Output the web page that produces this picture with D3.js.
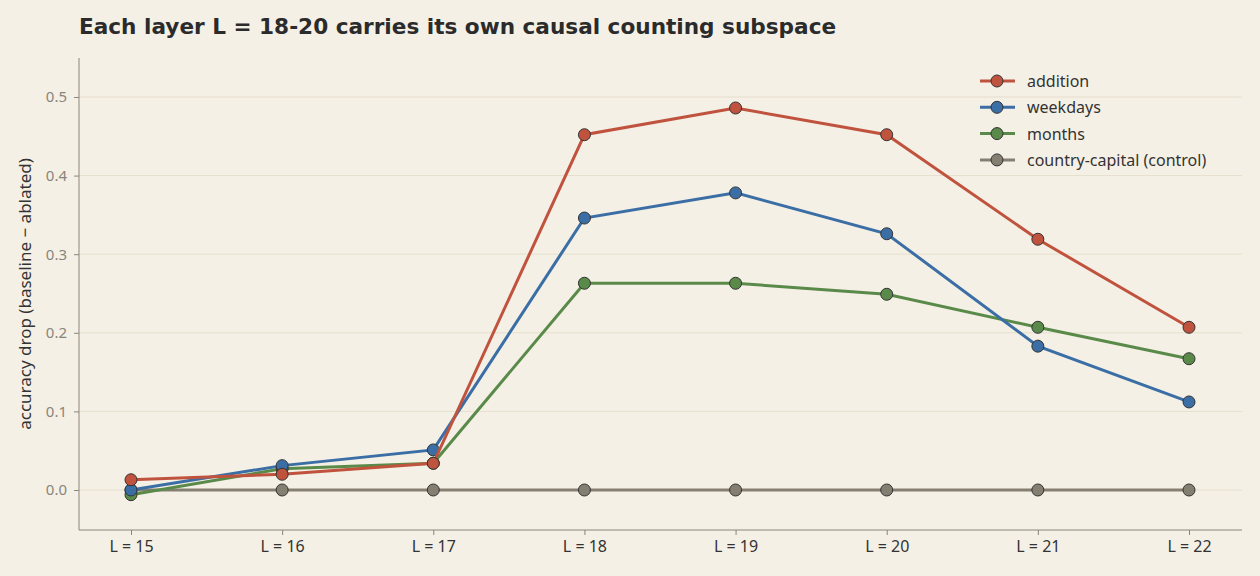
<!DOCTYPE html>
<html><head><meta charset="utf-8">
<script src="https://cdn.jsdelivr.net/npm/d3@7"></script>
<style>body{margin:0;background:#f5f0e6;font-family:"Noto Sans",sans-serif}</style>
</head><body><svg id="c" width="1260" height="576"></svg>
<script>
const categories=["L = 15","L = 16","L = 17","L = 18","L = 19","L = 20","L = 21","L = 22"];
const addition=[0.013,0.020,0.034,0.452,0.486,0.452,0.319,0.207];
const weekdays=[0.000,0.031,0.051,0.346,0.378,0.326,0.183,0.112];
const months=[-0.006,0.027,0.034,0.263,0.263,0.249,0.207,0.167];
const control=[0,0,0,0,0,0,0,0];
const yTicks=[0,0.1,0.2,0.3,0.4,0.5];
const series=[
 {name:"addition",values:addition,color:"#c0533e"},
 {name:"weekdays",values:weekdays,color:"#3a6ea5"},
 {name:"months",values:months,color:"#5a8a4a"},
 {name:"country-capital (control)",values:control,color:"#857f72"}];
const svg=d3.select("#c");
svg.append("rect").attr("width",1260).attr("height",576).attr("fill","#f5f0e6");
const L=79,R=1242,T=58,B=530;
const x=d3.scalePoint().domain(categories).range([131,1189]);
const y=d3.scaleLinear().domain([-0.0509,0.5496]).range([B,T]);
svg.append("g").selectAll("line").data(yTicks).join("line")
 .attr("x1",L).attr("x2",R).attr("y1",d=>y(d)).attr("y2",d=>y(d)).attr("stroke","#e6dfcc").attr("stroke-width",1);
const ya=svg.append("g").attr("transform",`translate(${L},0)`).call(d3.axisLeft(y).tickValues(yTicks).tickFormat(d3.format(".1f")).tickSize(5).tickPadding(7));
ya.select(".domain").attr("d",`M0,${T}V${B}`);
const xa=svg.append("g").attr("transform",`translate(0,${B})`).call(d3.axisBottom(x).tickSize(5).tickPadding(6));
xa.select(".domain").attr("d",`M${L},0H${R}`);
[ya,xa].forEach(a=>{a.selectAll(".domain,line").attr("stroke","#8a857a");a.selectAll("text").attr("font-family","Noto Sans");});
ya.selectAll("text").attr("fill","#8a857a").attr("font-size",15);
xa.selectAll("text").attr("fill","#333").attr("font-size",16);
const line=d3.line().x((d,i)=>x(categories[i])).y(d=>y(d));
series.slice().reverse().forEach(s=>{
 const g=svg.append("g");
 g.append("path").attr("d",line(s.values)).attr("fill","none").attr("stroke",s.color).attr("stroke-width",3);
 g.selectAll("circle").data(s.values).join("circle").attr("cx",(d,i)=>x(categories[i])).attr("cy",d=>y(d)).attr("r",6)
  .attr("fill",s.color).attr("stroke","#333").attr("stroke-width",1);
});
svg.append("text").attr("x",79).attr("y",34).attr("font-size",21.6).attr("font-weight","bold").attr("fill","#2b2b2b")
 .attr("font-family","DejaVu Sans").text("Each layer L = 18-20 carries its own causal counting subspace");
svg.append("text").attr("transform","translate(31,294) rotate(-90)").attr("text-anchor","middle").attr("font-size",17).attr("fill","#333")
 .text("accuracy drop  (baseline − ablated)");
const lg=svg.append("g");
series.forEach((s,i)=>{
 const yy=81+i*26.3;
 lg.append("line").attr("x1",980).attr("x2",1015).attr("y1",yy).attr("y2",yy).attr("stroke",s.color).attr("stroke-width",3);
 lg.append("circle").attr("cx",997).attr("cy",yy).attr("r",6).attr("fill",s.color).attr("stroke","#333");
 lg.append("text").attr("x",1027).attr("y",yy+6).attr("font-size",16).attr("fill","#333").text(s.name);
});
</script></body></html>
